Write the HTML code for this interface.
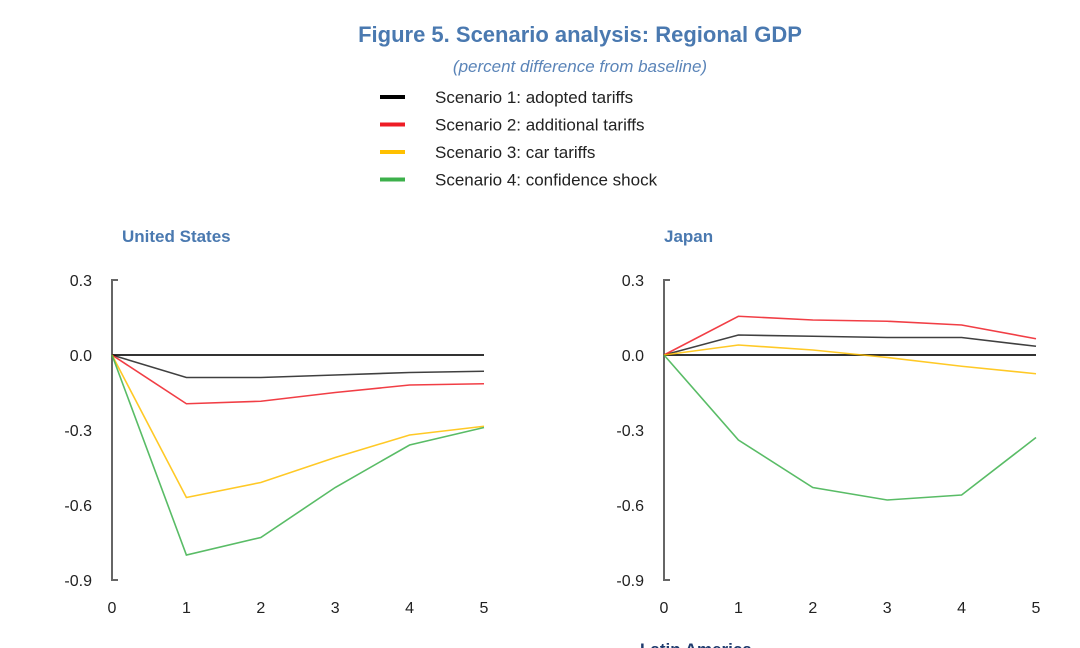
<!DOCTYPE html>
<html><head><meta charset="utf-8"><style>
body{margin:0;width:1080px;height:648px;background:#fff;overflow:hidden;font-family:"Liberation Sans",sans-serif}
svg{display:block}
</style></head><body>
<svg id="fig" width="1080" height="648">
<text x="580" y="42" text-anchor="middle" font-size="22" font-weight="bold" fill="#4a79b0">Figure 5. Scenario analysis: Regional GDP</text>
<text x="580" y="72" text-anchor="middle" font-size="17" font-style="italic" fill="#5a84b8">(percent difference from baseline)</text>
<g id="legend"></g>
<text x="122" y="242" font-size="17" font-weight="bold" fill="#4a79b0">United States</text>
<text x="664" y="242" font-size="17" font-weight="bold" fill="#4a79b0">Japan</text>
<text x="640" y="655" font-size="17" font-weight="bold" fill="#1f3b6e">Latin America</text>
<g id="p0"></g>
<g id="p1"></g>
</svg>
<script>
const seriesNames=["Scenario 1: adopted tariffs","Scenario 2: additional tariffs","Scenario 3: car tariffs","Scenario 4: confidence shock"];
const seriesColors=["#000000","#ee1c25","#ffc000","#3cb04b"];
const xCategories=[0,1,2,3,4,5];
const yTicks=[0.3,0.0,-0.3,-0.6,-0.9];
const yTickLabels=["0.3","0.0","-0.3","-0.6","-0.9"];
const usS1=[0,-0.09,-0.09,-0.08,-0.07,-0.065];
const usS2=[0,-0.195,-0.185,-0.15,-0.12,-0.115];
const usS3=[0,-0.57,-0.51,-0.41,-0.32,-0.285];
const usS4=[0,-0.80,-0.73,-0.53,-0.36,-0.29];
const jpS1=[0,0.08,0.075,0.07,0.07,0.035];
const jpS2=[0,0.155,0.14,0.135,0.12,0.065];
const jpS3=[0,0.04,0.02,-0.01,-0.045,-0.075];
const jpS4=[0,-0.34,-0.53,-0.58,-0.56,-0.33];
const NS="http://www.w3.org/2000/svg";
function mk(t,a,p){const e=document.createElementNS(NS,t);for(const k in a)e.setAttribute(k,a[k]);p.appendChild(e);return e;}
const lg=document.getElementById('legend');
seriesNames.forEach((n,i)=>{const y=97+i*27.5;
 const l=mk('line',{x1:380,x2:405,y1:y,y2:y,stroke:seriesColors[i],'stroke-width':4},lg);
 
 
 const t=mk('text',{x:435,y:y+6,'font-size':17,fill:'#222'},lg);t.textContent=n;
 
 
});
function panel(g,x0,data,prefix){
 const xs=v=>x0+v*74.4, ys=v=>355-v*250;
 const ax=mk('polyline',{points:`${x0+6},${ys(0.3)} ${x0},${ys(0.3)} ${x0},${ys(-0.9)} ${x0+6},${ys(-0.9)}`,fill:'none',stroke:'#666','stroke-width':2},g);
 
 
 yTicks.forEach((v,i)=>{const t=mk('text',{x:x0-20,y:ys(v)+6,'text-anchor':'end','font-size':16,fill:'#222'},g);t.textContent=yTickLabels[i];
  
  });
 xCategories.forEach(c=>{const t=mk('text',{x:xs(c),y:613,'text-anchor':'middle','font-size':16,fill:'#222'},g);t.textContent=c;
  
  });
 const z=mk('line',{x1:xs(0),x2:xs(5),y1:ys(0),y2:ys(0),stroke:'#333','stroke-width':2},g);
 
 
 data.forEach((d,i)=>{const p=mk('polyline',{points:d.map((v,j)=>xs(xCategories[j])+','+ys(v)).join(' '),fill:'none',stroke:seriesColors[i],'stroke-width':1.6,opacity:i==0?0.75:0.85},g);
  
  });
}
panel(document.getElementById('p0'),112,[usS1,usS2,usS3,usS4],'us');
panel(document.getElementById('p1'),664,[jpS1,jpS2,jpS3,jpS4],'japan');
</script>
</body></html>
